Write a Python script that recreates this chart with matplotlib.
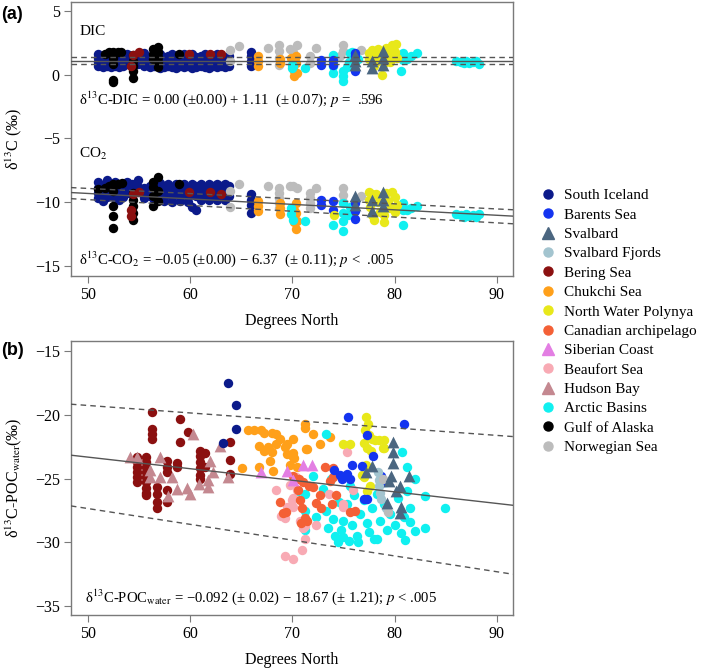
import matplotlib
matplotlib.use("Agg")
import matplotlib.pyplot as plt
from matplotlib.lines import Line2D

plt.rcParams['font.family'] = ['Liberation Serif', 'DejaVu Serif']
plt.rcParams['mathtext.fontset'] = 'stix'

# ---------------- colours / legend ----------------
regions = ['South Iceland', 'Barents Sea', 'Svalbard', 'Svalbard Fjords', 'Bering Sea',
           'Chukchi Sea', 'North Water Polynya', 'Canadian archipelago', 'Siberian Coast',
           'Beaufort Sea', 'Hudson Bay', 'Arctic Basins', 'Gulf of Alaska', 'Norwegian Sea']
colors = ['#0b1a8a', '#1434f0', '#4b6680', '#a3c4cf', '#8b1010',
          '#ffa01a', '#e8e81a', '#f46036', '#e37ee3',
          '#f8aab4', '#c48890', '#10f0f0', '#000000', '#bcbcbc']
markers = ['o', 'o', '^', 'o', 'o', 'o', 'o', 'o', '^', 'o', '^', 'o', 'o', 'o']

# ---------------- panel (a): DIC and CO2 ----------------
# South Iceland stations (lat) with several depths each
si_lat = [51.0, 51.4, 51.8, 52.2, 52.6, 53.0, 53.4, 53.8, 54.3, 54.9, 55.5, 56.0, 56.4, 57.0, 57.4, 57.8,
          58.2, 58.6, 59.0, 59.4, 59.8, 60.2, 60.6, 61.0, 61.4, 61.8, 62.2, 62.6, 63.0, 63.4, 63.8, 65.9]
si_dic = [[0.7, 1.0, 1.3, 1.6], [0.6, 0.9, 1.2, 1.5], [0.7, 1.0, 1.3, 1.6], [0.6, 0.9, 1.2, 1.5],
          [0.7, 1.0, 1.3, 1.6], [0.6, 0.9, 1.2, 1.6], [0.7, 1.1, 1.5], [0.8, 1.2, 1.6],
          [0.7, 1.0, 1.4], [0.8, 1.2, 1.6], [0.7, 1.0, 1.4, 1.7], [0.6, 1.0, 1.4],
          [0.7, 1.1, 1.5], [0.5, 0.9, 1.3, 1.6], [0.6, 1.0, 1.4], [0.7, 1.1, 1.5],
          [0.6, 1.0, 1.4, 1.6], [0.5, 0.9, 1.3], [0.7, 1.1, 1.5], [0.6, 1.0, 1.4, 1.6],
          [0.7, 1.1, 1.5], [0.5, 0.9, 1.3, 1.6], [0.6, 1.0, 1.4], [0.7, 1.1, 1.5],
          [0.6, 1.0, 1.4, 1.6], [0.5, 0.9, 1.3], [0.7, 1.1, 1.5], [0.6, 1.0, 1.4, 1.6],
          [0.7, 1.1, 1.5], [0.6, 1.0, 1.4], [0.7, 1.1, 1.5], [0.65, 1.05, 1.45, 1.8]]
si_co2 = [[-8.4, -8.9, -9.3, -9.7], [-8.7, -9.1, -9.5, -9.9], [-8.3, -8.8, -9.2, -9.6], [-8.7, -9.1, -9.5],
          [-8.4, -8.9, -9.3, -9.7], [-8.6, -9.0, -9.4, -9.8], [-8.8, -9.2, -9.6], [-8.4, -8.9, -9.3],
          [-8.6, -9.0, -9.4], [-8.3, -8.8, -9.2], [-8.9, -9.3, -9.7], [-8.7, -9.1, -9.5],
          [-8.6, -9.0, -9.4, -9.8], [-8.5, -8.9, -9.3, -9.7], [-8.7, -9.1, -9.5, -9.9], [-8.6, -9.0, -9.4],
          [-8.8, -9.2, -9.6, -10.0], [-8.6, -9.0, -9.4], [-8.7, -9.1, -9.5, -9.9], [-8.6, -9.0, -9.4],
          [-8.8, -9.2, -9.6, -10.0], [-8.6, -9.0, -9.4, -10.4], [-8.7, -9.1, -9.5, -10.6], [-8.6, -9.0, -9.4, -9.8],
          [-8.8, -9.2, -9.6], [-8.6, -9.0, -9.4, -9.8], [-8.7, -9.1, -9.5], [-8.6, -9.0, -9.4, -9.8],
          [-8.7, -9.1, -9.5], [-8.6, -9.0, -9.4, -9.8], [-8.7, -9.1, -9.5], [-9.4, -9.8, -10.2, -10.85]]

ga_dic_lat = [51.6, 52.0, 52.4, 52.4, 52.4, 52.4, 52.4, 52.4, 52.9, 53.2, 54.4, 54.4, 54.4, 54.4, 54.4,
              56.3, 56.3, 56.3, 56.8, 56.8, 56.8, 56.8, 56.8, 58.9]
ga_dic = [1.6, 1.8, 1.8, 1.6, 1.3, 0.8, -0.4, -0.6, 1.8, 1.8, 1.56, 1.04, 0.65, 0.26, -0.26,
          2.0, 1.6, 1.2, 2.2, 1.8, 1.4, 1.0, 0.6, 1.64]
ga_co2_lat = [51.0, 51.6, 52.0, 52.4, 52.4, 52.4, 52.4, 52.4, 52.9, 53.3, 54.4, 54.4, 54.4, 54.4, 54.4,
              56.3, 56.3, 56.3, 56.3, 56.8, 56.8, 56.8, 58.9]
ga_co2 = [-9.0, -8.9, -8.7, -8.6, -9.1, -10.3, -11.1, -12.0, -8.6, -8.5, -9.3, -9.8, -10.3, -10.85, -11.4,
          -8.4, -8.8, -9.5, -10.3, -8.0, -9.15, -9.9, -8.6]

br_dic_lat = [54.4, 55.0, 54.2, 59.9, 61.95, 63.0]
br_dic = [1.56, 1.75, 0.65, 1.64, 1.64, 1.64]
br_co2_lat = [54.2, 54.2, 55.0, 54.4, 59.9, 61.95, 63.0]
br_co2 = [-10.6, -11.1, -9.2, -9.4, -9.2, -9.2, -9.35]

nw_dic_lat = [63.9, 63.9, 64.8, 67.6, 68.7, 68.7, 68.7, 68.7, 69.8, 70.4, 70.1, 72.35, 71.7, 71.7,
              75.0, 75.0, 76.75, 74.7]
nw_dic = [1.9, 1.04, 2.27, 2.09, 2.35, 1.83, 1.3, 0.78, 2.0, 2.35, 1.8, 2.09, 1.43, 0.91,
          2.35, 1.83, 1.96, 1.5]
nw_co2_lat = [63.9, 63.9, 64.8, 67.6, 68.7, 68.7, 68.7, 68.7, 68.7, 69.8, 70.1, 70.4, 71.7, 71.7,
              71.7, 71.7, 72.35, 75.0, 75.0, 75.0, 76.75]
nw_co2 = [-9.15, -10.4, -8.6, -8.7, -8.9, -9.3, -9.7, -10.1, -10.5, -8.75, -8.75, -8.9, -9.3, -9.7,
          -10.05, -10.45, -8.9, -8.9, -9.45, -10.0, -9.55]

ck_dic_lat = [66.6, 66.6, 66.6, 68.8, 68.8, 69.9, 70.2, 70.2, 70.3, 70.3, 70.4]
ck_dic = [1.43, 1.04, 0.65, 1.2, 0.9, 1.3, 0.26, -0.13, 1.43, 0.91, 0.1]
ck_co2_lat = [66.6, 66.6, 66.6, 68.8, 68.8, 68.8, 70.2, 70.2, 70.2, 70.3, 70.3, 70.3, 70.4]
ck_co2 = [-9.9, -10.3, -10.7, -10.1, -10.5, -10.9, -10.6, -11.1, -11.6, -12.1, -10.05, -10.85, -11.5]

ab_dic_lat = [70.0, 70.0, 70.1, 71.2, 74.0, 74.0, 74.0, 74.0, 75.0, 75.0, 75.0, 75.6, 75.5, 75.3, 75.8,
              75.8, 76.4, 80.8, 80.8, 81.6, 82.2, 80.6, 81.2, 86.0, 86.5, 87.0, 87.3, 87.7, 88.0, 88.3, 86.8]
ab_dic = [0.78, 0.52, 0.65, 0.52, 1.56, 1.04, 0.65, 0.13, 0.26, -0.13, -0.52, 1.7, 1.0, 0.6, 1.8,
          1.4, 1.2, 1.7, 1.17, 1.43, 1.7, 0.26, 1.2, 1.1, 1.0, 1.1, 0.9, 1.0, 1.05, 0.85, 0.9]
ab_co2_lat = [69.9, 69.9, 70.1, 71.2, 74.0, 75.0, 75.0, 75.0, 75.0, 75.6, 75.4, 80.8, 80.8, 80.8, 81.6,
              82.2, 81.2, 86.0, 86.5, 87.0, 87.3, 87.7, 88.0, 88.3, 86.8]
ab_co2 = [-10.5, -10.9, -11.4, -11.5, -11.8, -10.05, -10.85, -11.5, -12.3, -10.4, -11.0, -10.05, -10.6, -11.8,
          -10.45, -10.3, -10.6, -10.9, -11.0, -10.9, -11.1, -11.0, -11.2, -10.95, -11.2]

bs_dic_lat = [72.8, 72.8, 74.0, 74.0, 76.1, 76.1, 76.1]
bs_dic = [1.17, 0.78, 1.17, 0.78, 1.7, 1.43, 0.26]
bs_co2_lat = [72.8, 72.8, 74.0, 74.0, 76.1, 76.1, 76.1]
bs_co2 = [-9.8, -10.2, -9.9, -10.6, -10.05, -10.7, -11.3]

sv_dic_lat = [76.1, 76.1, 76.1, 77.8, 77.8, 78.9, 78.9, 78.9]
sv_dic = [1.56, 1.04, 0.78, 1.04, 0.52, 1.83, 1.3, 0.78]
sv_co2_lat = [76.1, 76.1, 77.8, 77.8, 78.9, 78.9, 78.9]
sv_co2 = [-9.55, -10.2, -9.8, -10.7, -9.2, -9.8, -10.3]

nwp_dic_lat = [77.5, 77.5, 77.8, 78.0, 78.2, 78.4, 78.6, 78.8, 78.8, 79.2, 79.4, 79.6, 79.8, 80.0, 80.2,
               79.0, 78.0, 80.1, 79.6]
nwp_dic = [1.7, 1.2, 1.9, 1.5, 1.0, 2.0, 1.3, 0.0, 1.7, 2.1, 1.5, 1.0, 2.3, 1.8, 1.3, 0.9, 0.7, 2.4, 2.0]
nwp_co2_lat = [77.5, 77.5, 77.6, 77.8, 78.0, 78.2, 78.4, 78.6, 79.0, 79.2, 79.4, 79.6, 79.8, 80.0, 80.2,
               79.0, 74.1, 80.0, 77.8]
nwp_co2 = [-9.2, -9.8, -10.4, -11.0, -11.4, -9.4, -10.0, -10.8, -11.6, -9.3, -9.9, -10.5, -9.2, -9.6, -10.2,
           -11.0, -11.0, -10.8, -9.4]

# regression lines
dic_fit = [1.11, 1.11]
dic_band_hi = [1.40, 1.40]
dic_band_lo = [0.86, 0.86]
co2_fit = [-9.25, -11.1]
co2_band_hi = [-8.86, -10.6]
co2_band_lo = [-9.73, -11.7]

# ---------------- panel (b): POC water ----------------
p_si_lat = [63.7, 64.5, 64.5, 63.2]
p_si = [-17.5, -19.2, -21.1, -22.2]

p_br_lat = [54.75, 54.75, 54.75, 54.75, 54.75, 54.75, 55.7, 55.7, 55.7, 55.7, 55.7, 55.7, 55.7, 55.7, 55.7,
            56.2, 56.2, 56.2, 56.2, 56.7, 56.7, 56.7, 56.7, 57.7, 57.7, 57.7, 57.7, 57.7, 58.7, 58.7,
            59.0, 59.0, 59.8, 60.95, 60.95, 60.95, 60.95, 60.95, 60.95, 61.4, 61.4, 63.9, 63.9, 63.9]
p_br = [-23.3, -23.7, -24.1, -24.5, -24.9, -25.3, -23.3, -23.7, -24.1, -24.5, -24.9, -25.3, -25.7, -26.1, -26.3,
        -19.8, -21.1, -21.5, -21.9, -25.65, -26.2, -26.8, -27.3, -23.6, -24.1, -24.5, -25.9, -26.8, -23.8, -24.1,
        -20.3, -22.1, -21.35, -22.8, -23.2, -23.7, -24.2, -24.7, -25.0, -23.0, -24.1, -22.1, -23.5, -24.6]

p_hb_lat = [54.1, 54.8, 56.05, 56.05, 57.0, 57.0, 57.85, 58.2, 58.7, 60.0, 59.7, 60.3, 60.8, 61.75, 61.75,
            61.9, 62.2, 62.9, 63.65]
p_hb = [-23.3, -23.3, -24.35, -24.9, -23.3, -24.9, -26.4, -24.9, -25.8, -26.2, -25.7, -21.5, -25.4, -25.65, -25.1,
        -23.6, -24.5, -22.4, -24.9]

p_ck_lat = [65.1, 65.6, 66.2, 66.9, 67.2, 68.0, 66.7, 67.2, 67.6, 68.0, 68.4, 67.8, 68.1, 68.8, 69.5, 69.5,
            69.8, 66.7, 68.4, 69.25, 70.1, 70.2, 70.4, 71.2, 71.2, 71.3, 72.0, 72.7, 70.1, 70.1, 71.4, 73.65]
p_ck = [-24.15, -21.15, -21.15, -21.15, -21.4, -21.4, -22.4, -22.8, -22.5, -22.9, -22.3, -23.6, -24.4, -21.9,
        -22.3, -23.1, -23.9, -24.1, -21.5, -22.5, -21.9, -23.4, -24.1, -20.7, -21.0, -22.7, -21.5, -22.3,
        -23.0, -23.3, -22.7, -21.7]

p_sc_lat = [66.9, 69.5, 70.1, 71.05, 71.9]
p_sc = [-24.5, -24.4, -25.1, -23.95, -23.95]

p_ca_lat = [68.8, 69.1, 70.55, 70.7, 70.9, 71.2, 72.0, 72.7, 72.8, 73.2, 74.0, 75.6, 70.1, 70.6, 71.0, 71.6,
            74.0, 73.7, 74.3, 73.9, 72.35, 70.8, 76.1, 69.4, 71.4]
p_ca = [-26.8, -27.7, -25.9, -26.7, -27.3, -28.1, -25.65, -26.3, -27.3, -24.1, -24.9, -27.6, -24.8, -25.0,
        -25.3, -25.6, -24.2, -25.2, -26.3, -27.0, -26.9, -28.5, -27.5, -27.6, -28.3]

p_bf_lat = [68.4, 69.3, 69.5, 70.4, 70.0, 70.7, 71.0, 71.2, 70.9, 69.3, 70.1, 73.6, 75.1, 75.3, 74.96, 72.35,
            71.2, 70.1, 70.1, 75.9, 75.0, 69.8, 70.3, 68.9]
p_bf = [-25.9, -28.1, -27.2, -25.9, -26.7, -28.3, -28.9, -29.7, -30.6, -31.1, -31.3, -26.2, -24.8, -22.9, -27.2,
        -28.6, -28.7, -26.5, -27.2, -25.9, -27.0, -25.5, -24.9, -27.9]

p_ab_lat = [73.3, 71.2, 71.2, 72.3, 73.0, 73.3, 73.5, 74.0, 74.2, 74.5, 74.8, 75.0, 75.0, 75.3, 75.5, 75.8,
            76.0, 76.3, 76.6, 77.0, 77.3, 77.5, 77.8, 78.0, 78.3, 78.6, 79.0, 79.3, 79.6, 80.0, 80.3, 80.6,
            80.9, 81.2, 81.5, 80.7, 81.2, 82.05, 83.0, 84.9, 83.0, 82.0, 81.0, 78.3, 76.4, 72.0, 70.5, 71.2,
            73.8, 75.6, 74.6, 76.9, 79.2, 81.5]
p_ab = [-21.5, -26.2, -29.0, -28.0, -25.8, -27.5, -28.9, -28.2, -29.5, -30.0, -29.0, -28.3, -29.6, -27.0,
        -29.9, -28.6, -26.3, -29.5, -27.8, -26.7, -28.5, -29.2, -27.3, -29.7, -26.2, -28.3, -27.0, -29.0,
        -27.8, -28.6, -26.5, -29.3, -28.0, -26.0, -27.3, -22.9, -24.1, -25.0, -26.4, -27.3, -28.9, -29.1,
        -29.8, -29.7, -30.0, -24.8, -26.0, -27.5, -25.0, -25.6, -26.8, -24.7, -25.3, -28.4]

p_nwp_lat = [77.2, 77.4, 77.1, 77.5, 77.0, 77.3, 77.8, 78.5, 79.0, 79.0, 75.6, 77.2, 76.8, 77.3, 77.0, 77.7,
             78.1, 78.9, 75.0, 77.6]
p_nwp = [-20.15, -20.7, -21.2, -21.6, -22.2, -22.6, -21.9, -22.0, -22.0, -22.6, -22.3, -23.9, -24.7, -26.0,
         -24.9, -22.8, -22.0, -22.6, -22.3, -25.6]

p_bs_lat = [75.4, 80.9, 77.3, 77.9, 75.8, 76.8, 74.7, 75.3, 75.6, 79.0, 77.0, 77.3, 78.7, 74.1, 74.9]
p_bs = [-20.2, -20.7, -21.6, -23.2, -23.9, -24.0, -24.7, -24.6, -25.0, -25.3, -26.6, -26.6, -24.8, -24.3, -25.0]

p_sv_lat = [79.85, 79.85, 79.85, 77.8, 77.2, 81.4, 79.7, 80.5, 79.3, 80.6, 80.5, 79.5, 80.1]
p_sv = [-22.1, -22.9, -23.8, -24.0, -24.5, -24.8, -24.8, -25.6, -26.9, -27.2, -27.7, -25.2, -26.0]

p_sf_lat = [78.4, 78.5, 78.5, 78.6, 78.7, 79.2]
p_sf = [-24.5, -25.1, -25.6, -26.1, -26.6, -27.3]

p_nw_lat = [79.4, 78.9]
p_nw = [-27.6, -25.0]

poc_fit = [-23.16, -27.09]
poc_band_hi = [-19.16, -21.7]
poc_band_lo = [-27.14, -32.5]

xlim = (48.3, 91.6)


def flatten(lats, vals):
    xs, ys = [], []
    for la, vv in zip(lats, vals):
        for v in vv:
            xs.append(la)
            ys.append(v)
    return xs, ys


def style(ax):
    ax.set_xlim(*xlim)
    ax.set_xticks([50, 60, 70, 80, 90])
    for s in ax.spines.values():
        s.set_color('#7a7a7a')
        s.set_linewidth(1.0)
    ax.tick_params(direction='out', length=5, color='#7a7a7a', labelsize=11.5, pad=3)
    ax.set_xlabel('Degrees North', fontsize=11.5)
    ax.xaxis.set_label_coords(0.5, -0.135)


fig = plt.figure(figsize=(7.09, 6.69), dpi=100)
ax1 = fig.add_axes([0.100, 0.5874, 0.6235, 0.4096])
ax2 = fig.add_axes([0.100, 0.0807, 0.6235, 0.4096])

S = 46
ST = 72

# panel (a) -----------------------------------------------------------------
x, y = flatten(si_lat, si_dic)
ax1.scatter(x, y, s=S, c=colors[0], lw=0, zorder=2)
x, y = flatten(si_lat, si_co2)
ax1.scatter(x, y, s=S, c=colors[0], lw=0, zorder=2)
groups_a = [
    (ga_dic_lat, ga_dic, ga_co2_lat, ga_co2, 12),
    (br_dic_lat, br_dic, br_co2_lat, br_co2, 4),
    (nw_dic_lat, nw_dic, nw_co2_lat, nw_co2, 13),
    (ck_dic_lat, ck_dic, ck_co2_lat, ck_co2, 5),
    (ab_dic_lat, ab_dic, ab_co2_lat, ab_co2, 11),
    (bs_dic_lat, bs_dic, bs_co2_lat, bs_co2, 1),
    (nwp_dic_lat, nwp_dic, nwp_co2_lat, nwp_co2, 6),
    (sv_dic_lat, sv_dic, sv_co2_lat, sv_co2, 2),
]
for xd, yd, xc, yc, k in groups_a:
    size = ST if markers[k] == '^' else S
    ax1.scatter(xd, yd, s=size, c=colors[k], marker=markers[k], lw=0, zorder=3)
    ax1.scatter(xc, yc, s=size, c=colors[k], marker=markers[k], lw=0, zorder=3)

ax1.plot(xlim, dic_fit, color='#555555', lw=1, zorder=4)
ax1.plot(xlim, dic_band_hi, color='#555555', lw=1, ls=(0, (4, 3)), zorder=4)
ax1.plot(xlim, dic_band_lo, color='#555555', lw=1, ls=(0, (4, 3)), zorder=4)
ax1.plot(xlim, co2_fit, color='#555555', lw=1, zorder=4)
ax1.plot(xlim, co2_band_hi, color='#555555', lw=1, ls=(0, (4, 3)), zorder=4)
ax1.plot(xlim, co2_band_lo, color='#555555', lw=1, ls=(0, (4, 3)), zorder=4)

ax1.set_ylim(-15.8, 5.7)
ax1.set_yticks([5, 0, -5, -10, -15])
ax1.set_yticklabels(['5', '0', '\u22125', '\u221210', '\u221215'])
style(ax1)
ax1.set_ylabel('δ$^{13}$C (‰)', fontsize=11.5)
ax1.yaxis.set_label_coords(-0.106, 0.5)

ax1.text(49.1, 3.4, 'DIC', fontsize=11, va='center')
ax1.text(49.1, -1.95, 'δ$^{13}$C-DIC = 0.00 (±0.00) + 1.11  (± 0.07); $p$ =  .596', fontsize=10.6, va='center')
ax1.text(49.1, -6.25, 'CO$_2$', fontsize=11, va='center')
ax1.text(49.1, -14.5, 'δ$^{13}$C-CO$_2$ = \u22120.05 (±0.00) \u2212 6.37  (± 0.11); $p$ <  .005', fontsize=10.6,
         va='center')

# panel (b) -----------------------------------------------------------------
groups_b = [
    (p_br_lat, p_br, 4), (p_hb_lat, p_hb, 10), (p_si_lat, p_si, 0), (p_ck_lat, p_ck, 5),
    (p_ab_lat, p_ab, 11), (p_bf_lat, p_bf, 9), (p_ca_lat, p_ca, 7), (p_sc_lat, p_sc, 8),
    (p_nwp_lat, p_nwp, 6), (p_bs_lat, p_bs, 1), (p_sf_lat, p_sf, 3), (p_nw_lat, p_nw, 13),
    (p_sv_lat, p_sv, 2),
]
for xs, ys, k in groups_b:
    size = ST if markers[k] == '^' else S
    ax2.scatter(xs, ys, s=size, c=colors[k], marker=markers[k], lw=0, zorder=3)

ax2.plot(xlim, poc_fit, color='#555555', lw=1, zorder=4)
ax2.plot(xlim, poc_band_hi, color='#555555', lw=1, ls=(0, (4, 3)), zorder=4)
ax2.plot(xlim, poc_band_lo, color='#555555', lw=1, ls=(0, (4, 3)), zorder=4)

ax2.set_ylim(-35.7, -14.2)
ax2.set_yticks([-15, -20, -25, -30, -35])
ax2.set_yticklabels(['\u221215', '\u221220', '\u221225', '\u221230', '\u221235'])
style(ax2)
ax2.set_ylabel('δ$^{13}$C-POC$_{\\rm water}$(‰)', fontsize=11.5)
ax2.yaxis.set_label_coords(-0.106, 0.5)
ax2.text(49.7, -34.3, 'δ$^{13}$C-POC$_{\\rm water}$ = \u22120.092 (± 0.02) \u2212 18.67 (± 1.21); $p$ < .005',
         fontsize=10.6, va='center')

fig.text(0.002, 0.978, '(a)', fontsize=13, fontweight='bold', family='Liberation Sans', va='center')
fig.text(0.002, 0.476, '(b)', fontsize=13, fontweight='bold', family='Liberation Sans', va='center')

# legend ----------------------------------------------------------------------
handles = [Line2D([], [], ls='none', marker=m, color=c, markersize=6.5 if m == 'o' else 8)
           for m, c in zip(markers, colors)]
fig.legend(handles, regions, loc='upper left', bbox_to_anchor=(0.755, 0.727), frameon=False,
           fontsize=11, handlelength=0.8, handletextpad=0.7, labelspacing=0.37, borderaxespad=0)

fig.savefig('out.png', dpi=100)
